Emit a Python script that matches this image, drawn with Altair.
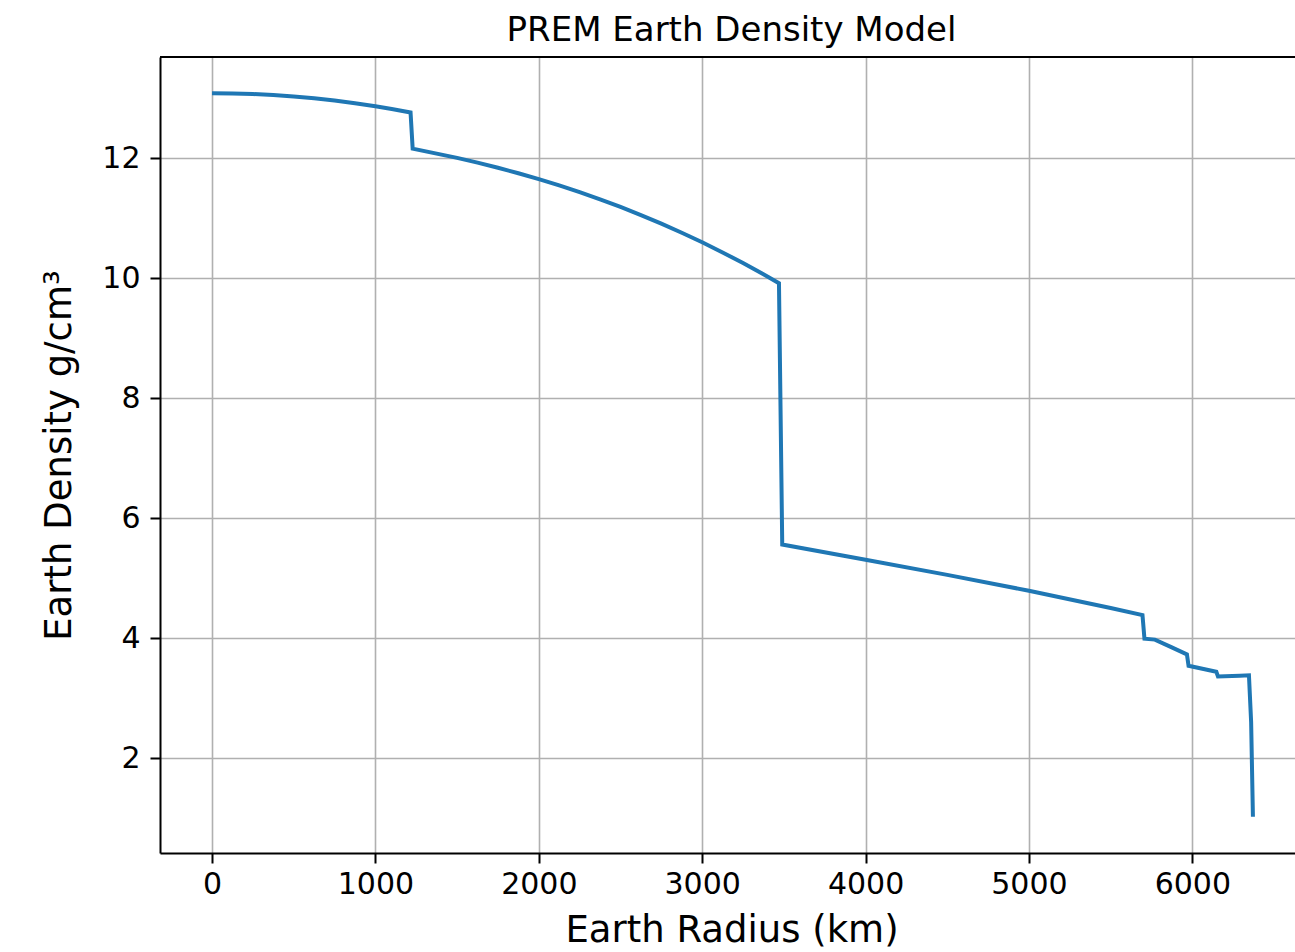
import altair as alt
import pandas as pd

# Earth radius (km) and PREM density (g/cm^3)
radius_km = [0, 125, 250, 375, 500, 625, 750, 875, 1000, 1100, 1215, 1228,
             1500, 1625, 1750, 1875, 2000, 2125, 2250, 2375, 2500, 2625,
             2750, 2875, 3000, 3125, 3250, 3375, 3470, 3490, 4000, 4500,
             5000, 5500, 5695, 5707, 5771, 5871, 5967, 5977, 6147, 6157,
             6291, 6346.6, 6360, 6371]
density = [13.0885, 13.0851, 13.0749, 13.0579, 13.0341, 13.0034, 12.9660,
           12.9218, 12.8708, 12.8250, 12.7671, 12.1630,
           12.0099, 11.9304, 11.8450, 11.7531, 11.6548, 11.5496, 11.4374,
           11.3178, 11.1907, 11.0557, 10.9127, 10.7614, 10.6015, 10.4328,
           10.2551, 10.0680, 9.9194, 5.5615, 5.3073, 5.0547,
           4.7899, 4.5038, 4.3845, 3.9907, 3.9758, 3.8498, 3.7288, 3.5397,
           3.4382, 3.3601, 3.3747, 3.3808, 2.6, 1.02]

x_ticks = [0, 1000, 2000, 3000, 4000, 5000, 6000]
y_ticks = [2, 4, 6, 8, 10, 12]

df = pd.DataFrame({"r": radius_km, "rho": density})

FONT = "DejaVu Sans"
W, H = 1135, 796

line = alt.Chart(df).mark_line(color="#1f77b4", strokeWidth=4, clip=True).encode(
    x=alt.X("r:Q",
            scale=alt.Scale(domain=[-318.55, 6628.5], nice=False, zero=False),
            axis=alt.Axis(values=x_ticks, title="Earth Radius (km)",
                          titleFontSize=37, titlePadding=13,
                          titleX=571.5, titleAlign="center", titleAnchor="start",
                          labelFontSize=30, labelPadding=6, format="d")),
    y=alt.Y("rho:Q",
            scale=alt.Scale(domain=[0.4166, 13.692], nice=False, zero=False),
            axis=alt.Axis(values=y_ticks, title="Earth Density g/cm³",
                          titleFontSize=37, titlePadding=23,
                          labelFontSize=30, labelPadding=10, format="d")),
)

top_border = alt.Chart(df).mark_rule(color="black", strokeWidth=2).encode(
    x=alt.value(0), x2=alt.value(W), y=alt.value(0)
)

chart = alt.layer(line, top_border).properties(
    width=W, height=H,
    background="white",
    title=alt.TitleParams("PREM Earth Density Model", fontSize=34, font=FONT,
                          fontWeight="normal", anchor="middle", dx=4,
                          offset=8, color="black"),
    autosize=alt.AutoSizeParams(type="none"),
    padding={"left": 160, "top": 57, "right": 0, "bottom": 99},
).configure_view(stroke=None).configure_axis(
    labelFont=FONT, titleFont=FONT, titleFontWeight="normal",
    labelColor="black", titleColor="black",
    domainColor="black", domainWidth=2,
    tickColor="black", tickWidth=2, tickSize=10,
    grid=True, gridColor="#b0b0b0", gridWidth=1.6,
)

chart.save("out.html", embed_options={"renderer": "svg", "actions": False})
